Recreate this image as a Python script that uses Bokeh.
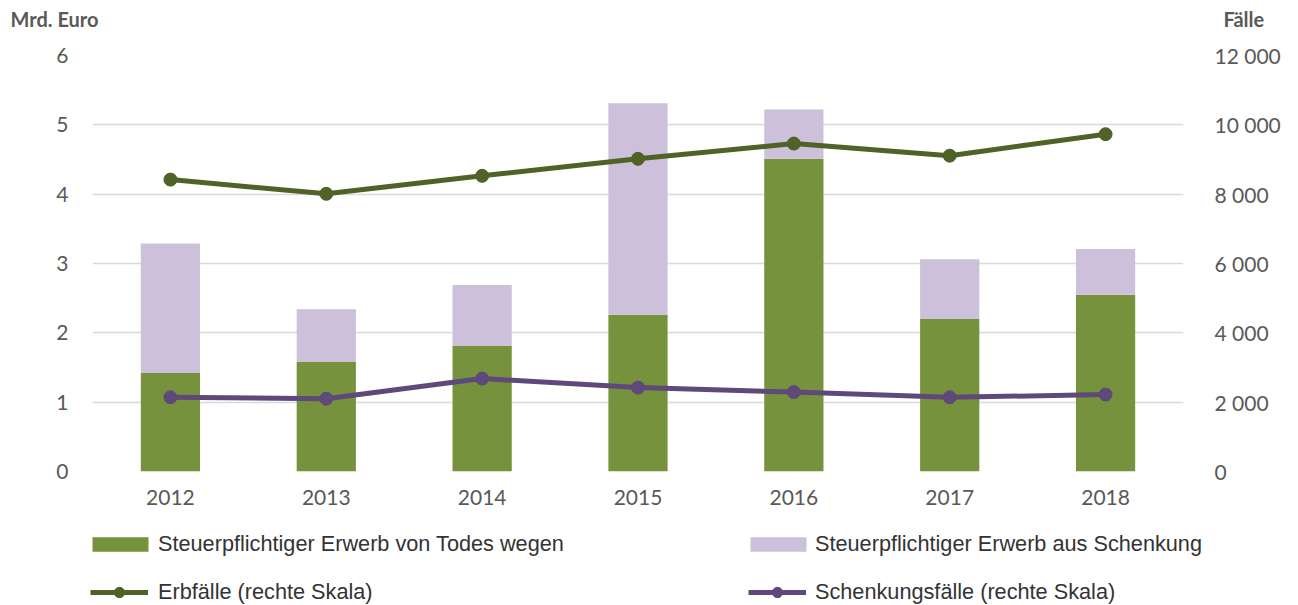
from bokeh.plotting import figure
from bokeh.models import (ColumnDataSource, FactorRange, Range1d, LinearAxis, FixedTicker,
                          CustomJSTickFormatter, Legend, LegendItem, Label)
from bokeh.embed import file_html
from bokeh.resources import INLINE

years = ["2012", "2013", "2014", "2015", "2016", "2017", "2018"]
todes = [1.42, 1.58, 1.81, 2.26, 4.51, 2.20, 2.55]          # Mrd. Euro
schenkung = [1.87, 0.76, 0.88, 3.05, 0.71, 0.86, 0.66]      # Mrd. Euro (stacked on top)
erbfaelle = [8420, 8010, 8530, 9020, 9460, 9110, 9730]      # Fälle
schenkungsfaelle = [2140, 2100, 2680, 2420, 2290, 2140, 2220]
left_ticks = [0, 1, 2, 3, 4, 5, 6]
right_ticks = [0, 2000, 4000, 6000, 8000, 10000, 12000]
left_title = "Mrd. Euro"
right_title = "Fälle"
legend_labels = ["Steuerpflichtiger Erwerb von Todes wegen", "Erbfälle (rechte Skala)",
                 "Steuerpflichtiger Erwerb aus Schenkung", "Schenkungsfälle (rechte Skala)"]

GREEN = "#76923C"
LILAC = "#CCC0DA"
DGREEN = "#4F6228"
PURPLE = "#5F497A"
TICK_FONT = "Lato"
TICK_COLOR = "#595959"
W = 1298


def bare(height):
    f = figure(width=W, height=height, x_range=Range1d(0, W), y_range=Range1d(0, height),
               output_backend="svg", toolbar_location=None,
               min_border=0, min_border_left=0, min_border_right=0,
               min_border_top=0, min_border_bottom=0)
    f.axis.visible = False
    f.grid.visible = False
    f.outline_line_color = None
    return f


# ---- top strip with axis titles
top = bare(40)
top.add_layout(Label(x=10, y=22, x_units="screen", y_units="screen", text=left_title,
                     text_font=TICK_FONT, text_font_style="bold", text_font_size="20px",
                     text_color=TICK_COLOR, text_baseline="middle", text_align="left"))
top.add_layout(Label(x=1223, y=22, x_units="screen", y_units="screen", text=right_title,
                     text_font=TICK_FONT, text_font_style="bold", text_font_size="20px",
                     text_color=TICK_COLOR, text_baseline="middle", text_align="left"))

# ---- main chart
src = ColumnDataSource(dict(year=years, todes=todes, schenkung=schenkung,
                            erb=erbfaelle, schenk=schenkungsfaelle))

p = figure(width=W, height=480, x_range=FactorRange(*years), y_range=Range1d(0, 6),
           output_backend="svg", toolbar_location=None,
           min_border_left=92, min_border_right=115, min_border_top=15, min_border_bottom=49)
p.outline_line_color = None
p.extra_y_ranges = {"right": Range1d(0, 12000)}

p.vbar_stack(["todes", "schenkung"], x="year", width=0.38, source=src,
             color=[GREEN, LILAC], line_color=None)
p.line("year", "erb", source=src, y_range_name="right", line_color=DGREEN, line_width=5)
p.scatter("year", "erb", source=src, y_range_name="right", size=13,
          fill_color=DGREEN, line_color=DGREEN)
p.line("year", "schenk", source=src, y_range_name="right", line_color=PURPLE, line_width=5)
p.scatter("year", "schenk", source=src, y_range_name="right", size=13,
          fill_color=PURPLE, line_color=PURPLE)

p.yaxis.ticker = FixedTicker(ticks=left_ticks)
for ax in [p.xaxis[0], p.yaxis[0]]:
    ax.axis_line_color = None
    ax.major_tick_line_color = None
    ax.minor_tick_line_color = None
    ax.major_label_text_font = TICK_FONT
    ax.major_label_text_font_size = "21px"
    ax.major_label_text_color = TICK_COLOR
p.yaxis.major_label_standoff = 18
p.xaxis.major_label_standoff = 12

rax = LinearAxis(y_range_name="right", ticker=FixedTicker(ticks=right_ticks),
                 formatter=CustomJSTickFormatter(code="""
                     const s = Math.round(tick).toString();
                     return s.replace(/\\B(?=(\\d{3})+(?!\\d))/g, ' ');"""))
rax.axis_line_color = None
rax.major_tick_line_color = None
rax.minor_tick_line_color = None
rax.major_label_text_font = TICK_FONT
rax.major_label_text_font_size = "21px"
rax.major_label_text_color = TICK_COLOR
rax.major_label_standoff = 25
p.add_layout(rax, "right")

p.xgrid.grid_line_color = None
p.ygrid.grid_line_color = "#D9D9D9"
p.ygrid.grid_line_width = 1.5
p.ygrid.ticker = FixedTicker(ticks=left_ticks)

# ---- legend strip (swatch renderers sit outside the visible range)
lf = bare(85)
off = ColumnDataSource(dict(x=[-1000, -999], top=[-1000, -1000], y=[-1000, -1000]))
r_bar1 = lf.vbar(x="x", top="top", width=1, source=off, color=GREEN, line_color=None)
r_bar2 = lf.vbar(x="x", top="top", width=1, source=off, color=LILAC, line_color=None)
r_l1 = lf.line("x", "y", source=off, line_color=DGREEN, line_width=5)
r_m1 = lf.scatter("x", "y", source=off, size=12, fill_color=DGREEN, line_color=DGREEN)
r_l2 = lf.line("x", "y", source=off, line_color=PURPLE, line_width=5)
r_m2 = lf.scatter("x", "y", source=off, size=12, fill_color=PURPLE, line_color=PURPLE)


def make_legend(label, renderers, x, y, gw, gh, standoff):
    return Legend(items=[LegendItem(label=label, renderers=renderers)], location=(x, y),
                  glyph_width=gw, glyph_height=gh, label_height=24,
                  label_standoff=standoff, padding=0, margin=0, spacing=0,
                  border_line_color=None, background_fill_alpha=0,
                  label_text_font="Liberation Sans", label_text_font_size="21.7px",
                  label_text_color="#333333")


lf.add_layout(make_legend(legend_labels[0], [r_bar1], 85, 48, 70, 18, 3), "center")
lf.add_layout(make_legend(legend_labels[1], [r_l1, r_m1], 90, 0, 58, 26, 10), "center")
lf.add_layout(make_legend(legend_labels[2], [r_bar2], 743, 48, 70, 18, 2), "center")
lf.add_layout(make_legend(legend_labels[3], [r_l2, r_m2], 748, 0, 58, 26, 9), "center")

open("out.html", "w").write(file_html([top, p, lf], INLINE))
